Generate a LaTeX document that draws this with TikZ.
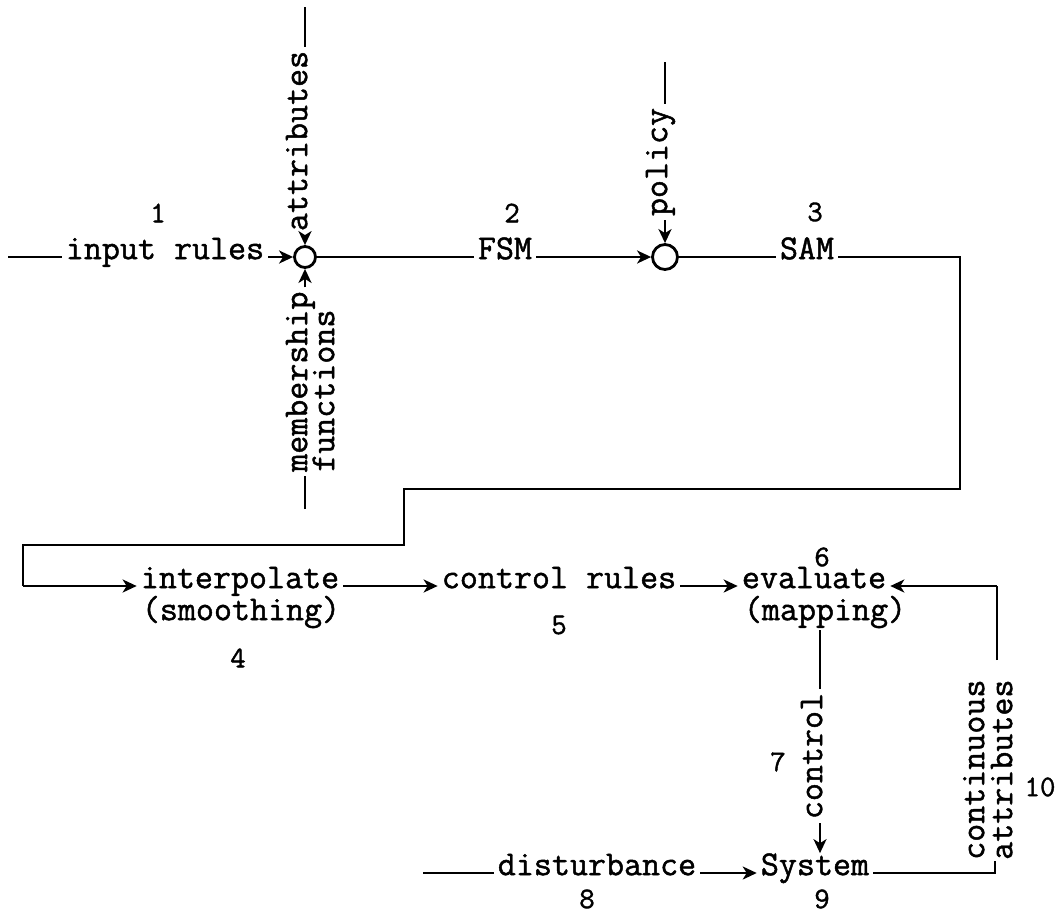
\documentclass[tikz,border=0pt]{standalone}
\usepackage{fontspec}
\newfontfamily\tw[FakeBold=1.3]{Latin Modern Mono}
\usetikzlibrary{arrows.meta}
\tikzset{
  txt/.style={font=\fontsize{35}{37}\selectfont\tw, inner xsep=4pt, inner ysep=0pt},
  num/.style={font=\fontsize{30}{32}\selectfont\tw, inner sep=0pt},
  vtxt/.style={txt, rotate=90},
  ln/.style={line width=2.4pt},
  arr/.style={line width=2.4pt, -{Stealth[length=14pt,width=13pt,inset=4pt]}},
  junction/.style={draw, circle, inner sep=0pt, line width=2.8pt}
}
\begin{document}
\begin{tikzpicture}[x=1pt,y=-1pt]
\useasboundingbox (0,0) rectangle (1059,914);
% ---- row 1
\coordinate (in0) at (8,257);
\node[txt, anchor=mid] (inrules) at (165,257) {input rules};
\node[junction, minimum size=21pt] (c1) at (305,257) {};
\coordinate (attrtop) at (305,7);
\node[vtxt, anchor=mid] (attr) at (305,141) {attributes};
\node[vtxt, anchor=mid west] (memb) at (305,476) {membership};
\node[vtxt, anchor=mid west] (func) at (332,476) {functions};
\coordinate (membbot) at (305,509);
\node[txt, anchor=mid] (fsm) at (505,257) {FSM};
\node[junction, minimum size=25pt] (c2) at (665,257) {};
\coordinate (poltop) at (665,62);
\node[vtxt, anchor=mid] (pol) at (665,162) {policy};
\node[txt, anchor=mid] (sam) at (807,257) {SAM};
\node[num] (n1) at (158,213) {1};
\node[num] (n2) at (512,213) {2};
\node[num] (n3) at (815,212) {3};
\coordinate (k1) at (960,257);
\coordinate (k2) at (960,489);
\coordinate (k3) at (404,489);
\coordinate (k4) at (404,545);
\coordinate (k5) at (23,545);
\coordinate (k6) at (23,586);
% ---- row 2
\node[txt, anchor=mid] (interp) at (240,586) {interpolate};
\node[txt, anchor=mid] (smooth) at (241,618) {(smoothing)};
\node[txt, anchor=mid] (crules) at (559,586) {control rules};
\node[txt, anchor=mid] (eval) at (814,586) {evaluate};
\node[txt, anchor=mid] (mapp) at (825,618) {(mapping)};
\node[num] (n4) at (238,658) {4};
\node[num] (n5) at (559,625) {5};
\node[num] (n6) at (822,557) {6};
% ---- feedback / control
\coordinate (ctltop) at (820,630);
\node[vtxt, anchor=mid] (ctl) at (820,756) {control};
\node[num] (n7) at (778,762) {7};
\coordinate (fbtop) at (997,586);
\coordinate (fbmid) at (997,660);
\node[vtxt, anchor=mid west] (cont) at (982,864) {continuous};
\node[vtxt, anchor=mid west] (cattr) at (1010,864) {attributes};
\node[num] (n10) at (1040,787) {10};
% ---- row 3
\coordinate (dist0) at (423,873);
\node[txt, anchor=mid] (dist) at (597,873) {disturbance};
\node[txt, anchor=mid] (sys) at (815,873) {System};
\node[num] (n8) at (587,899) {8};
\node[num] (n9) at (822,899) {9};
\coordinate (b1) at (995,873);
\coordinate (b2) at (995,861);
% ---- connectors
\draw[ln] (in0) -- (inrules.mid west);
\draw[arr] (inrules.mid east) -- (c1.west);
\draw[ln] (attrtop) -- (attr.mid east);
\draw[arr] (attr.mid west) -- (c1.north);
\draw[ln] (membbot) -- (memb.mid west);
\draw[arr] (memb.mid east) -- (c1.south);
\draw[ln] (c1.east) -- (fsm.mid west);
\draw[arr] (fsm.mid east) -- (c2.west);
\draw[ln] (poltop) -- (pol.mid east);
\draw[arr] (pol.mid west) -- (c2.north);
\draw[ln] (c2.east) -- (sam.mid west);
\draw[ln] (sam.mid east) -- (k1) -- (k2) -- (k3) -- (k4) -- (k5) -- (k6);
\draw[arr] (k6) -- (interp.mid west);
\draw[arr] (interp.mid east) -- (crules.mid west);
\draw[arr] (crules.mid east) -- (eval.mid west);
\draw[ln] (fbmid) -- (fbtop);
\draw[arr] (fbtop) -- (eval.mid east);
\draw[ln] (ctltop) -- (ctl.mid east);
\draw[arr] (ctl.mid west) -- (ctl.mid west |- sys.north);
\draw[ln] (dist0) -- (dist.mid west);
\draw[arr] (dist.mid east) -- (sys.mid west);
\draw[ln] (sys.mid east) -- (b1) -- (b2);
\end{tikzpicture}
\end{document}
